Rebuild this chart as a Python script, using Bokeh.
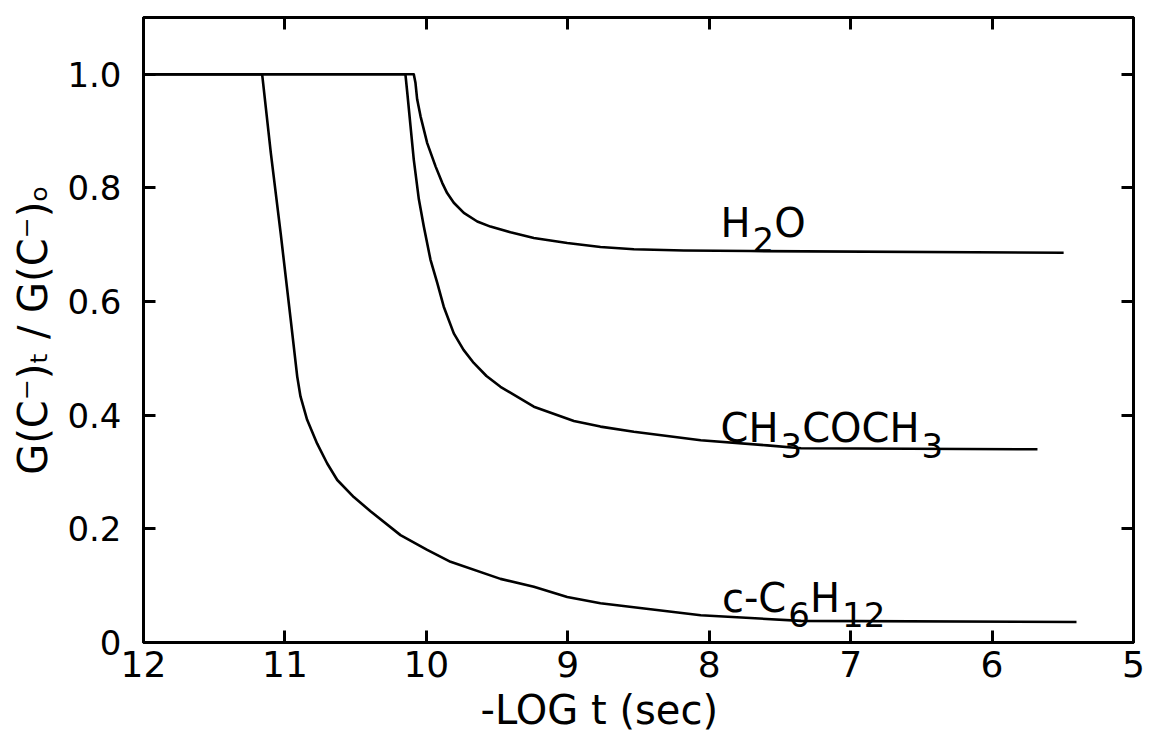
from bokeh.plotting import figure
from bokeh.models import (Range1d, FixedTicker, LinearAxis, CustomJSTickFormatter, Title,
                          ColumnDataSource)
from bokeh.core.properties import value
from bokeh.embed import file_html
from bokeh.resources import INLINE

# ---- data ----
x_ticks = [5, 6, 7, 8, 9, 10, 11, 12]
y_ticks = [0, 0.2, 0.4, 0.6, 0.8, 1.0]

h2o_x = [12.0, 10.089, 10.077, 10.065, 10.041, 9.994, 9.935, 9.888, 9.853, 9.806, 9.735,
         9.640, 9.547, 9.405, 9.240, 9.004, 8.769, 8.533, 8.180, 7.708, 5.494]
h2o_y = [1.0, 1.0, 0.985, 0.956, 0.926, 0.879, 0.838, 0.809, 0.791, 0.774, 0.756,
         0.741, 0.732, 0.722, 0.712, 0.703, 0.696, 0.692, 0.690, 0.689, 0.686]

acetone_x = [12.0, 10.148, 10.135, 10.112, 10.089, 10.053, 10.018, 9.971, 9.923, 9.877,
             9.806, 9.737, 9.665, 9.575, 9.476, 9.240, 8.957, 8.769, 8.533, 8.060, 7.590,
             7.351, 5.679]
acetone_y = [1.0, 1.0, 0.968, 0.909, 0.850, 0.780, 0.732, 0.674, 0.633, 0.591,
             0.544, 0.515, 0.492, 0.469, 0.450, 0.415, 0.390, 0.380, 0.371, 0.356, 0.347,
             0.342, 0.340]

cyclo_x = [12.0, 11.161, 11.100, 11.030, 10.960, 10.913, 10.890, 10.843, 10.772, 10.701,
           10.630, 10.513, 10.395, 10.183, 9.994, 9.829, 9.476, 9.240, 9.004, 8.769,
           8.533, 8.060, 7.351, 5.403]
cyclo_y = [1.0, 1.0, 0.862, 0.720, 0.570, 0.468, 0.433, 0.392, 0.350, 0.315,
           0.286, 0.256, 0.231, 0.189, 0.163, 0.142, 0.112, 0.098, 0.080, 0.069,
           0.062, 0.048, 0.038, 0.036]

# label pieces: (text, is_subscript)
series_labels = [
    [("H", 0), ("2", 1), ("O", 0)],
    [("CH", 0), ("3", 1), ("COCH", 0), ("3", 1)],
    [("c-C", 0), ("6", 1), ("H", 0), ("12", 1)],
]
label_anchor = [(7.92, 0.739), (7.92, 0.377), (7.91, 0.079)]

FONT = "DejaVu Sans"
MAIN_PX = 40
SUB_PX = 34
SUB_DROP = 17
ADV = {"H": 0.752, "O": 0.787, "C": 0.698, "c": 0.550, "-": 0.361,
       "0": 0.636, "1": 0.636, "2": 0.636, "3": 0.636, "6": 0.636}

p = figure(width=1157, height=738, x_range=Range1d(12, 5), y_range=Range1d(0, 1.1),
           output_backend="svg", toolbar_location=None,
           min_border_left=143, min_border_right=24, min_border_top=17, min_border_bottom=96)
p.grid.visible = False
p.background_fill_color = "white"
p.border_fill_color = "white"
p.outline_line_color = "black"
p.outline_line_width = 3


def style_axis(ax, size):
    ax.axis_line_width = 3
    ax.axis_line_color = "black"
    ax.major_tick_in = 12
    ax.major_tick_out = 0
    ax.major_tick_line_width = 3
    ax.major_tick_line_color = "black"
    ax.minor_tick_in = 0
    ax.minor_tick_out = 0
    ax.major_label_text_font = FONT
    ax.major_label_text_font_size = size
    ax.major_label_text_color = "black"


xa = p.xaxis[0]
xa.ticker = FixedTicker(ticks=x_ticks)
style_axis(xa, "36px")
xa.major_label_standoff = 8

ya = p.yaxis[0]
ya.ticker = FixedTicker(ticks=y_ticks)
ya.formatter = CustomJSTickFormatter(code="return tick == 0 ? '0' : tick.toFixed(1);")
style_axis(ya, "34px")
ya.major_label_standoff = 22
ya.axis_label = "G(C⁻)ₜ / G(C⁻)ₒ"
ya.axis_label_text_font = FONT
ya.axis_label_text_font_size = "40px"
ya.axis_label_text_font_style = "normal"
ya.axis_label_text_color = "black"
ya.axis_label_standoff = 8

blank = CustomJSTickFormatter(code="return '';")
top = LinearAxis(ticker=FixedTicker(ticks=x_ticks), formatter=blank)
style_axis(top, "8px")
top.major_label_standoff = 0
p.add_layout(top, "above")

right = LinearAxis(ticker=FixedTicker(ticks=y_ticks), formatter=blank)
style_axis(right, "8px")
right.major_label_standoff = 0
p.add_layout(right, "right")

for xs, ys in [(h2o_x, h2o_y), (acetone_x, acetone_y), (cyclo_x, cyclo_y)]:
    p.line(xs, ys, line_color="black", line_width=2.6, line_join="round")

# curve labels composed of normal and lowered (subscript) pieces
main = dict(x=[], y=[], text=[], xo=[])
sub = dict(x=[], y=[], text=[], xo=[])
for parts, (lx, ly) in zip(series_labels, label_anchor):
    off = 0.0
    for txt, is_sub in parts:
        d = sub if is_sub else main
        px = SUB_PX if is_sub else MAIN_PX
        d["x"].append(lx)
        d["y"].append(ly)
        d["text"].append(txt)
        d["xo"].append(off + (2 if is_sub else 0))
        off += sum(ADV[ch] for ch in txt) * px + (2 if is_sub else 0)

p.text(x="x", y="y", text="text", x_offset="xo", source=ColumnDataSource(main),
       text_font=value(FONT), text_font_size=f"{MAIN_PX}px", text_color="black",
       text_align="left", text_baseline="alphabetic")
p.text(x="x", y="y", text="text", x_offset="xo", y_offset=SUB_DROP,
       source=ColumnDataSource(sub),
       text_font=value(FONT), text_font_size=f"{SUB_PX}px", text_color="black",
       text_align="left", text_baseline="alphabetic")

p.add_layout(Title(text="-LOG t (sec)", align="left", offset=337, standoff=10,
                   text_font=FONT, text_font_size="40px", text_font_style="normal",
                   text_color="black"), "below")

open("out.html", "w").write(file_html(p, INLINE))
